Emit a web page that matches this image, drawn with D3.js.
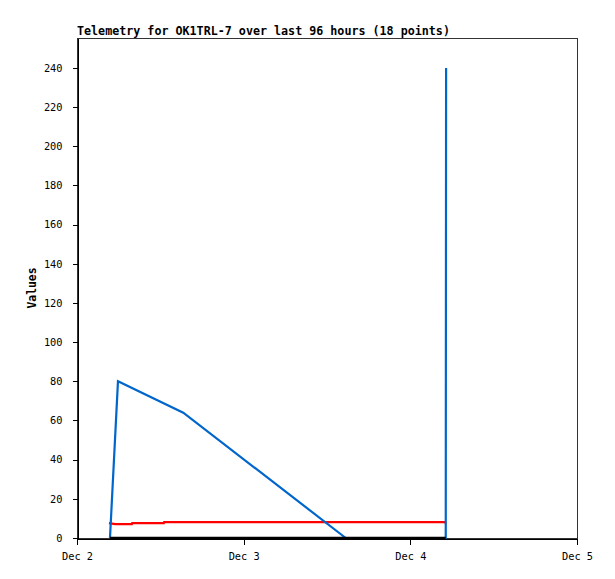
<!DOCTYPE html>
<html>
<head>
<meta charset="utf-8">
<script src="https://cdn.jsdelivr.net/npm/d3@7"></script>
<style>
  body { margin: 0; background: #fff; }
  text { font-family: "DejaVu Sans Mono", monospace; }
</style>
</head>
<body>
<div id="chart"></div>
<script>
(function(){

    // data (hours after Dec 2 00:00 UTC)
    var blueTimes  = [4.75, 5.9, 15.3, 38.7, 53.1, 53.15];
    var blueValues = [0, 80, 64, 0, 0, 240];
    var redTimes   = [4.6, 5.5, 7.9, 7.95, 12.5, 12.55, 53.0, 53.1];
    var redValues  = [7.6, 7.1, 7.1, 7.6, 7.6, 8.1, 8.1, 7.4];
    var blackTimes = [4.75, 53.1];
    var blackValues = [0, 0];
    var yTicks = [0, 20, 40, 60, 80, 100, 120, 140, 160, 180, 200, 220, 240];
    var xTickDays = [2, 3, 4, 5];

    var width = 615, height = 579;
    var left = 77, right = 577, top = 38, bottom = 538;

    var base = Date.UTC(2024, 11, 2);
    var toDate = function(h) { return new Date(base + h * 3600e3); };

    var svg = d3.select("#chart")
        .append("svg")
        .attr("width", width)
        .attr("height", height);

    var x = d3.scaleUtc()
        .domain([toDate(0), toDate(72)])
        .range([left, right]);

    var y = d3.scaleLinear()
        .domain([0, 255.3])
        .range([bottom, top]);

    // frame
    svg.append("rect")
        .attr("x", left + 0.5).attr("y", top + 0.5)
        .attr("width", right - left).attr("height", bottom - top)
        .attr("fill", "none")
        .attr("stroke", "#333")
        .attr("shape-rendering", "crispEdges");

    // y axis
    var yAxis = d3.axisLeft(y)
        .tickValues(yTicks)
        .tickSize(5)
        .tickPadding(10)
        .tickSizeOuter(0);
    var gy = svg.append("g")
        .attr("transform", "translate(" + (left + 0.5) + ",0)")
        .call(yAxis);

    // x axis
    var xAxis = d3.axisBottom(x)
        .tickValues(xTickDays.map(function(d){ return new Date(Date.UTC(2024, 11, d)); }))
        .tickFormat(d3.utcFormat("Dec %-d"))
        .tickSize(6)
        .tickPadding(8)
        .tickSizeOuter(0);
    var gx = svg.append("g")
        .attr("transform", "translate(0," + (bottom + 0.5) + ")")
        .call(xAxis);

    [gx, gy].forEach(function(g) {
        g.selectAll("text")
            .attr("font-family", "DejaVu Sans Mono, monospace")
            .attr("font-size", "10.3px")
            .attr("fill", "#000");
        g.selectAll("line, path")
            .attr("stroke", "#000")
            .attr("shape-rendering", "crispEdges");
    });

    var line = d3.line()
        .x(function(d) { return x(toDate(d[0])); })
        .y(function(d) { return y(d[1]); });

    var series = [
        { t: redTimes, v: redValues, color: "#ff0000", w: 2.2 },
        { t: blueTimes, v: blueValues, color: "#0066cc", w: 2.2 },
        { t: blackTimes, v: blackValues, color: "#000000", w: 2.5 }
    ];

    series.forEach(function(s) {
        svg.append("path")
            .datum(d3.zip(s.t, s.v))
            .attr("d", line)
            .attr("fill", "none")
            .attr("stroke", s.color)
            .attr("stroke-width", s.w)
            .attr("stroke-linejoin", "miter");
    });

    // title
    svg.append("text")
        .attr("x", left)
        .attr("y", 35)
        .attr("font-size", "11.7px")
        .attr("font-weight", "bold")
        .text("Telemetry for OK1TRL-7 over last 96 hours (18 points)");

    // y label
    svg.append("text")
        .attr("transform", "translate(36," + ((top + bottom) / 2) + ") rotate(-90)")
        .attr("text-anchor", "middle")
        .attr("font-size", "11.4px")
        .attr("font-weight", "bold")
        .text("Values");

})();
</script>
</body>
</html>
